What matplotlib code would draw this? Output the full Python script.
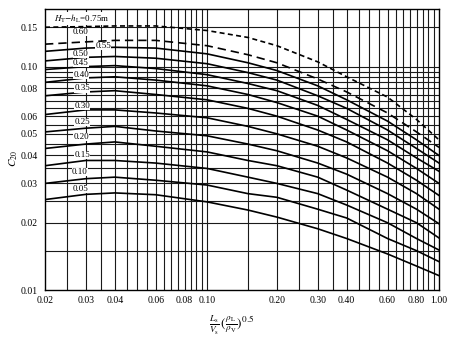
import numpy as np
import matplotlib.pyplot as plt
from matplotlib.ticker import FixedLocator, NullFormatter

plt.rcParams['font.family'] = ['Liberation Serif', 'DejaVu Serif']
plt.rcParams['mathtext.fontset'] = 'stix'
plt.rcParams['font.size'] = 7

flow_param = [0.02, 0.03, 0.04, 0.06, 0.10, 0.15, 0.20, 0.30, 0.40, 0.60, 0.80, 1.00]

# C20 for each plate spacing H_T - h_L (m)
c20_075 = [0.150, 0.151, 0.152, 0.152, 0.145, 0.135, 0.124, 0.105, 0.090, 0.073, 0.058, 0.047]
c20_060 = [0.126, 0.129, 0.131, 0.131, 0.124, 0.113, 0.104, 0.088, 0.077, 0.062, 0.051, 0.0435]
c20_055 = [0.117, 0.121, 0.122, 0.121, 0.114, 0.104, 0.096, 0.082, 0.071, 0.057, 0.047, 0.040]
c20_050 = [0.106, 0.110, 0.111, 0.109, 0.103, 0.094, 0.087, 0.074, 0.065, 0.052, 0.043, 0.037]
c20_045 = [0.097, 0.100, 0.101, 0.098, 0.092, 0.084, 0.078, 0.067, 0.058, 0.047, 0.039, 0.034]
c20_040 = [0.085, 0.089, 0.090, 0.087, 0.082, 0.075, 0.069, 0.060, 0.052, 0.042, 0.035, 0.030]
c20_035 = [0.074, 0.077, 0.078, 0.075, 0.071, 0.065, 0.060, 0.052, 0.046, 0.037, 0.031, 0.0265]
c20_030 = [0.061, 0.064, 0.064, 0.062, 0.059, 0.054, 0.050, 0.044, 0.039, 0.032, 0.027, 0.023]
c20_025 = [0.051, 0.053, 0.054, 0.0515, 0.049, 0.045, 0.042, 0.037, 0.033, 0.027, 0.023, 0.0198]
c20_020 = [0.043, 0.045, 0.046, 0.044, 0.0415, 0.038, 0.036, 0.032, 0.028, 0.023, 0.020, 0.0171]
c20_015 = [0.036, 0.038, 0.038, 0.037, 0.035, 0.032, 0.030, 0.027, 0.024, 0.020, 0.017, 0.0151]
c20_010 = [0.030, 0.0315, 0.032, 0.031, 0.0295, 0.027, 0.026, 0.023, 0.021, 0.017, 0.015, 0.0134]
c20_005 = [0.0254, 0.0268, 0.0272, 0.0267, 0.0248, 0.0228, 0.0212, 0.0188, 0.0170, 0.0145, 0.0128, 0.0116]

curve_names = ['0.75', '0.60', '0.55', '0.50', '0.45', '0.40', '0.35',
               '0.30', '0.25', '0.20', '0.15', '0.10', '0.05']
curve_data = [c20_075, c20_060, c20_055, c20_050, c20_045, c20_040, c20_035,
              c20_030, c20_025, c20_020, c20_015, c20_010, c20_005]

# curve labels (text, x, y)
label_text = [r'$H_{\rm T}$$-$$h_{\rm L}$=0.75m', '0.60', '0.55', '0.50', '0.45', '0.40',
              '0.35', '0.30', '0.25', '0.20', '0.15', '0.10', '0.05']
label_x = [0.0288, 0.0285, 0.0356, 0.0285, 0.0285, 0.0287, 0.0290,
           0.0290, 0.0290, 0.0287, 0.0290, 0.0283, 0.0285]
label_y = [0.164, 0.143, 0.124, 0.1135, 0.1035, 0.0916, 0.0798,
           0.0664, 0.0565, 0.0483, 0.0402, 0.0338, 0.0284]

xtick_vals = [0.02, 0.03, 0.04, 0.06, 0.08, 0.10, 0.20, 0.30, 0.40, 0.60, 0.80, 1.00]
ytick_vals = [0.01, 0.02, 0.03, 0.04, 0.05, 0.06, 0.08, 0.10, 0.15]

fig = plt.figure(figsize=(4.56, 3.40), dpi=100)
ax = fig.add_axes([0.0987, 0.147, 0.864, 0.8265])
ax.set_xscale('log')
ax.set_yscale('log')
ax.set_xlim(0.02, 1.0)
ax.set_ylim(0.01, 0.181)

# grid lines every 0.005 (small end) / 0.05 (large end)
xgrid = list(np.arange(0.025, 0.1001, 0.005)) + list(np.arange(0.15, 0.951, 0.05))
ygrid = list(np.arange(0.015, 0.1001, 0.005)) + [0.15]
for gx in xgrid:
    ax.axvline(gx, color='#1a1a1a', lw=0.8, zorder=1)
for gy in ygrid:
    ax.axhline(gy, color='#1a1a1a', lw=0.8, zorder=1)

# plot curves
for name, vals in zip(curve_names, curve_data):
    if name == '0.75':
        ax.plot(flow_param, vals, color='black', lw=1.2, dashes=(3, 2), zorder=2)
    elif name == '0.60':
        ax.plot(flow_param, vals, color='black', lw=1.2, dashes=(5, 3), zorder=2)
    else:
        ax.plot(flow_param, vals, color='black', lw=1.2, zorder=2)

for t, lx, ly in zip(label_text, label_x, label_y):
    ax.text(lx, ly, t, ha='center', va='center', fontsize=6.5, zorder=3,
            bbox=dict(facecolor='white', edgecolor='none', pad=0.1))

ax.xaxis.set_major_locator(FixedLocator(xtick_vals))
ax.xaxis.set_major_formatter(plt.FixedFormatter(['%.2f' % v for v in xtick_vals]))
ax.xaxis.set_minor_formatter(NullFormatter())
ax.yaxis.set_major_locator(FixedLocator(ytick_vals))
ax.yaxis.set_major_formatter(plt.FixedFormatter(['%.2f' % v for v in ytick_vals]))
ax.yaxis.set_minor_formatter(NullFormatter())
ax.tick_params(which='both', length=0, labelsize=7)
ax.tick_params(axis='x', pad=4)
ax.tick_params(axis='y', pad=5)
for sp in ax.spines.values():
    sp.set_linewidth(1.0)

fig.text(0.03, 0.535, r'$C_{20}$', rotation=90, ha='center', va='center', fontsize=8)
fig.text(0.507, 0.042, r'$\frac{L_{\rm s}}{V_{\rm s}}\,(\frac{\rho_{\rm L}}{\rho_{\rm V}})^{0.5}$',
         ha='center', va='center', fontsize=9.5)

fig.savefig('out.png', dpi=100)
